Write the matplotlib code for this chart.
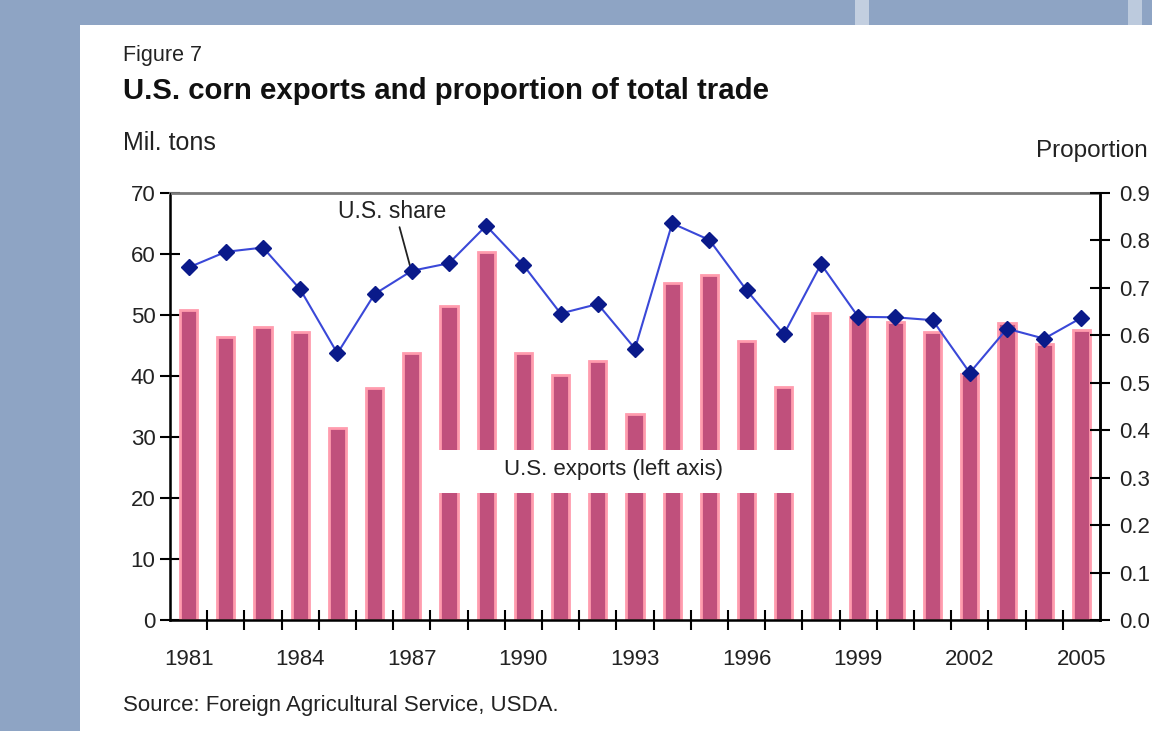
import matplotlib.pyplot as plt
import matplotlib.patches as mpatches
import numpy as np

years = list(range(1981, 2006))
exports = [50.9, 46.4, 48.0, 47.2, 31.4, 38.0, 43.7, 51.4, 60.4, 43.8, 40.2, 42.4,
           33.8, 55.3, 56.6, 45.7, 38.2, 50.4, 49.7, 48.9, 47.2, 40.4, 48.7, 45.3, 47.5]
share = [0.743, 0.776, 0.785, 0.697, 0.562, 0.687, 0.736, 0.752, 0.831, 0.748, 0.646, 0.666,
         0.572, 0.836, 0.801, 0.695, 0.602, 0.750, 0.639, 0.638, 0.632, 0.521, 0.614, 0.593, 0.637]
left_ticks = [0, 10, 20, 30, 40, 50, 60, 70]
right_ticks = [0.0, 0.1, 0.2, 0.3, 0.4, 0.5, 0.6, 0.7, 0.8, 0.9]

plt.rcParams['font.family'] = ['Liberation Sans', 'DejaVu Sans']
txt = '#222222'

fig = plt.figure(figsize=(11.52, 7.31), dpi=100)
fig.patch.set_facecolor('white')

# screenshot frame: blue-grey strips left and top
fig.patches.append(mpatches.Rectangle((0, 0), 80 / 1152, 1, transform=fig.transFigure,
                                      facecolor='#8ea4c4', edgecolor='none', zorder=0))
fig.patches.append(mpatches.Rectangle((0, 1 - 25 / 731), 1, 25 / 731, transform=fig.transFigure,
                                      facecolor='#8ea4c4', edgecolor='none', zorder=0))
fig.patches.append(mpatches.Rectangle((855 / 1152, 1 - 25 / 731), 14 / 1152, 25 / 731,
                                      transform=fig.transFigure, facecolor='#c3cfe0',
                                      edgecolor='none', zorder=0))
fig.patches.append(mpatches.Rectangle((1128 / 1152, 1 - 25 / 731), 14 / 1152, 25 / 731,
                                      transform=fig.transFigure, facecolor='#bccadd',
                                      edgecolor='none', zorder=0))

ax = fig.add_axes([170 / 1152, 111 / 731, 930 / 1152, 427 / 731])
x = np.arange(len(years))

ax.bar(x, exports, width=0.46, color='#c0507c', edgecolor='#ff9cae', linewidth=2, zorder=2)
ax.set_xlim(-0.5, 24.5)
ax.set_ylim(0, 70)
ax.set_yticks(left_ticks)
ax.set_xticks(x[::3])
ax.set_xticklabels([str(y) for y in years[::3]])
ax.set_xticks(np.arange(0.5, 24, 1), minor=True)
ax.tick_params(axis='x', which='major', length=0, pad=21, labelsize=16, labelcolor=txt)
ax.tick_params(axis='x', which='minor', direction='inout', length=15, width=1.5)
ax.tick_params(axis='y', direction='inout', length=15, width=1.5, labelsize=16, pad=3,
               labelcolor=txt)
for s in ['left', 'bottom', 'right']:
    ax.spines[s].set_linewidth(1.8)
ax.spines['top'].set_color('#7a7a7a')
ax.spines['top'].set_linewidth(2)

# white gap behind the bar label
ax.add_patch(mpatches.Rectangle((6.6, 20.8), 9.8, 7.1, facecolor='white',
                                edgecolor='none', zorder=3))
ax.text(11.42, 24.6, 'U.S. exports (left axis)', ha='center', va='center',
        fontsize=16, color=txt, zorder=4)

ax2 = ax.twinx()
ax2.plot(x, share, color='#3a48d8', linewidth=1.5, marker='D', markersize=8.5,
         markerfacecolor='#0a1a8a', markeredgecolor='#0a1a8a', zorder=5)
ax2.set_ylim(0, 0.9)
ax2.set_yticks(right_ticks)
ax2.set_yticklabels(['%.1f' % v for v in right_ticks])
ax2.tick_params(axis='y', direction='inout', length=15, width=1.5, labelsize=16, pad=6,
                labelcolor=txt)
ax2.spines['right'].set_linewidth(1.8)
ax2.spines['top'].set_visible(False)

ax.text(5.46, 66.9, 'U.S. share', ha='center', va='center', fontsize=16.5, color=txt)
ax.annotate('', xy=(5.95, 58.1), xytext=(5.67, 64.4),
            arrowprops=dict(arrowstyle='-', color=txt, lw=1.3, shrinkA=0, shrinkB=0))

fig.text(123 / 1152, 1 - 55 / 731, 'Figure 7', fontsize=15.5, va='center', color=txt)
fig.text(123 / 1152, 1 - 91 / 731, 'U.S. corn exports and proportion of total trade',
         fontsize=21.2, fontweight='bold', va='center', color='#111111')
fig.text(123 / 1152, 1 - 143 / 731, 'Mil. tons', fontsize=18, va='center', color=txt)
fig.text(1148 / 1152, 1 - 151 / 731, 'Proportion', fontsize=17.5, ha='right', va='center',
         color=txt)
fig.text(123 / 1152, 1 - 705 / 731, 'Source: Foreign Agricultural Service, USDA.',
         fontsize=16, va='center', color=txt)

fig.savefig('out.png', dpi=100)
